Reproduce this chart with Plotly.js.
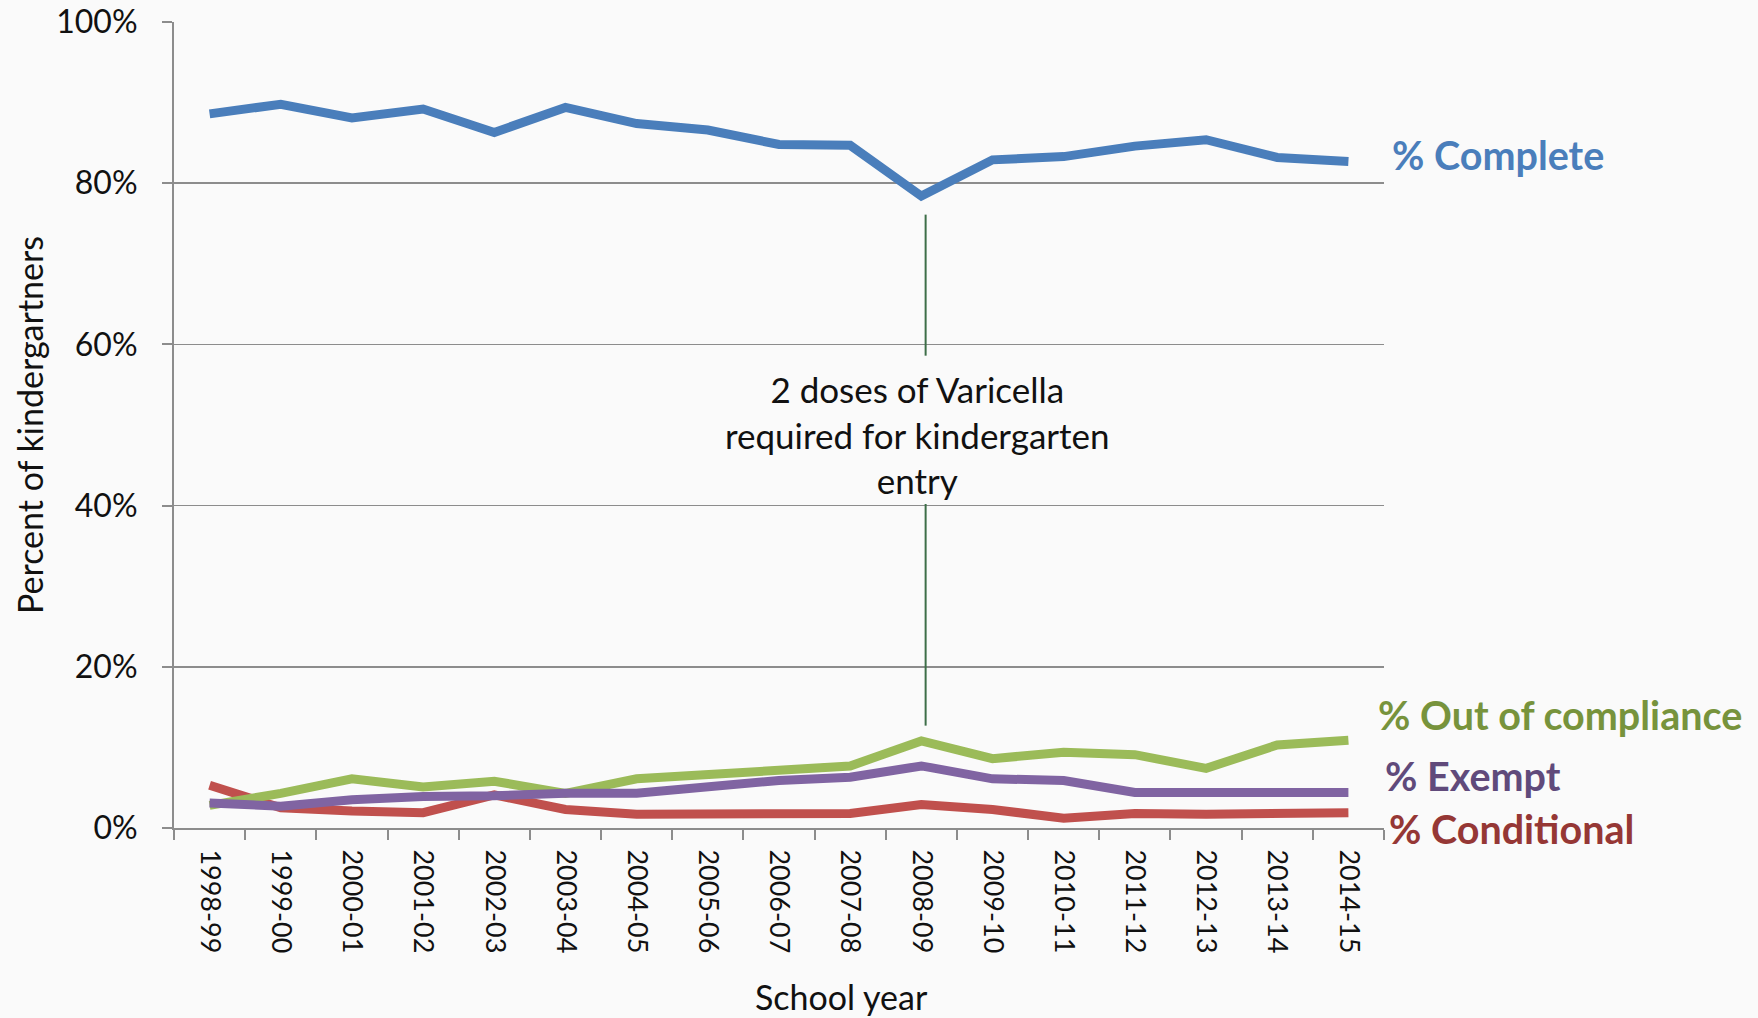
<!DOCTYPE html>
<html>
<head>
<meta charset="utf-8">
<script src="https://cdn.plot.ly/plotly-3.0.1.min.js"></script>
<style>html,body{margin:0;padding:0;background:#fafafa;}#chart{width:1758px;height:1018px;}</style>
</head>
<body>
<div id="chart"></div>
<script>
const schoolYears = ["1998-99","1999-00","2000-01","2001-02","2002-03","2003-04","2004-05","2005-06","2006-07","2007-08","2008-09","2009-10","2010-11","2011-12","2012-13","2013-14","2014-15"];
const pctComplete = [88.6, 89.8, 88.1, 89.2, 86.3, 89.4, 87.4, 86.6, 84.8, 84.7, 78.4, 82.9, 83.3, 84.6, 85.4, 83.2, 82.7];
const pctOutOfCompliance = [2.8, 4.3, 6.1, 5.1, 5.8, 4.3, 6.1, 6.7, 7.2, 7.7, 10.8, 8.6, 9.4, 9.1, 7.4, 10.3, 10.9];
const pctExempt = [3.1, 2.7, 3.5, 3.9, 4.0, 4.3, 4.3, 5.1, 5.9, 6.3, 7.7, 6.1, 5.9, 4.4, 4.4, 4.5, 4.4];
const pctConditional = [5.3, 2.5, 2.1, 1.9, 4.1, 2.3, 1.7, 1.7, 1.8, 1.8, 2.9, 2.3, 1.2, 1.8, 1.7, 1.8, 1.9];
const yTickVals = [0, 20, 40, 60, 80, 100];
const yTickText = yTickVals.map(v => v + "%");
const annotationYear = "2008-09";
const annotationText = "2 doses of Varicella<br>required for kindergarten<br>entry";
const xTitle = "School year";
const yTitle = "Percent of kindergartners";

const series = [
  {name: "% Complete", y: pctComplete, color: "#4a7ebb", labelColor: "#4a7ebb", lx: 1.0053, ly: 83.5},
  {name: "% Out of compliance", y: pctOutOfCompliance, color: "#9bbb59", labelColor: "#77933c", lx: 0.9933, ly: 14.1},
  {name: "% Exempt", y: pctExempt, color: "#8064a2", labelColor: "#604a7b", lx: 0.9993, ly: 6.5},
  {name: "% Conditional", y: pctConditional, color: "#c0504d", labelColor: "#953735", lx: 1.0023, ly: 0.0}
];

const drawOrder = [3, 1, 2, 0];
const traces = drawOrder.map(i => ({
  type: "scatter", mode: "lines", name: series[i].name,
  x: schoolYears, y: series[i].y,
  line: {color: series[i].color, width: 9, shape: "linear"},
  hoverinfo: "x+y+name"
}));

const annX = schoolYears.indexOf(annotationYear);
const annotations = series.map(s => ({
  xref: "paper", yref: "y", x: s.lx, y: s.ly, xanchor: "left", yanchor: "middle",
  text: "<b>" + s.name + "</b>", showarrow: false,
  font: {family: "Lato, sans-serif", size: 39.5, color: s.labelColor}
}));
annotations.push({
  xref: "x", yref: "y", x: annX, y: 48.8, xshift: -4, xanchor: "center", yanchor: "middle",
  text: annotationText, showarrow: false,
  font: {family: "Lato, sans-serif", size: 35, color: "#111111"}
});
annotations.push({
  xref: "paper", yref: "paper", x: 0.552, y: -0.209, xanchor: "center", yanchor: "middle",
  text: xTitle, showarrow: false,
  font: {family: "Lato, sans-serif", size: 34, color: "#111111"}
});

const layout = {
  width: 1758, height: 1018,
  paper_bgcolor: "#fafafa", plot_bgcolor: "#fafafa",
  margin: {l: 174, r: 374, t: 22, b: 190},
  showlegend: false,
  font: {family: "Lato, sans-serif", color: "#111111"},
  xaxis: {
    type: "category", range: [-0.5, schoolYears.length - 0.5],
    showline: true, linecolor: "#8c8c8c", linewidth: 2,
    ticks: "outside", tickson: "boundaries", ticklen: 10, tickcolor: "#8c8c8c", tickwidth: 2,
    showgrid: false, tickangle: 90, ticklabelstandoff: 14,
    tickfont: {family: "Lato, sans-serif", size: 27, color: "#111111"}
  },
  yaxis: {
    range: [0, 100], tickvals: yTickVals, ticktext: yTickText,
    showline: true, linecolor: "#8c8c8c", linewidth: 2,
    ticks: "outside", ticklen: 10, tickcolor: "#8c8c8c", tickwidth: 2,
    showgrid: true, gridcolor: "#8c8c8c", gridwidth: 1.5, zeroline: false,
    ticklabelstandoff: 18,
    tickfont: {family: "Lato, sans-serif", size: 32, color: "#111111"},
    title: {text: yTitle, font: {family: "Lato, sans-serif", size: 34, color: "#111111"}, standoff: 2}
  },
  shapes: [
    {type: "line", xref: "x", yref: "y", x0: annX, x1: annX, x0shift: 0.06, x1shift: 0.06, y0: 76.1, y1: 58.6, line: {color: "#3d6e48", width: 2}},
    {type: "line", xref: "x", yref: "y", x0: annX, x1: annX, x0shift: 0.06, x1shift: 0.06, y0: 40.2, y1: 12.7, line: {color: "#3d6e48", width: 2}}
  ],
  annotations: annotations
};

Plotly.newPlot("chart", traces, layout, {displayModeBar: false, staticPlot: true});
</script>
</body>
</html>
